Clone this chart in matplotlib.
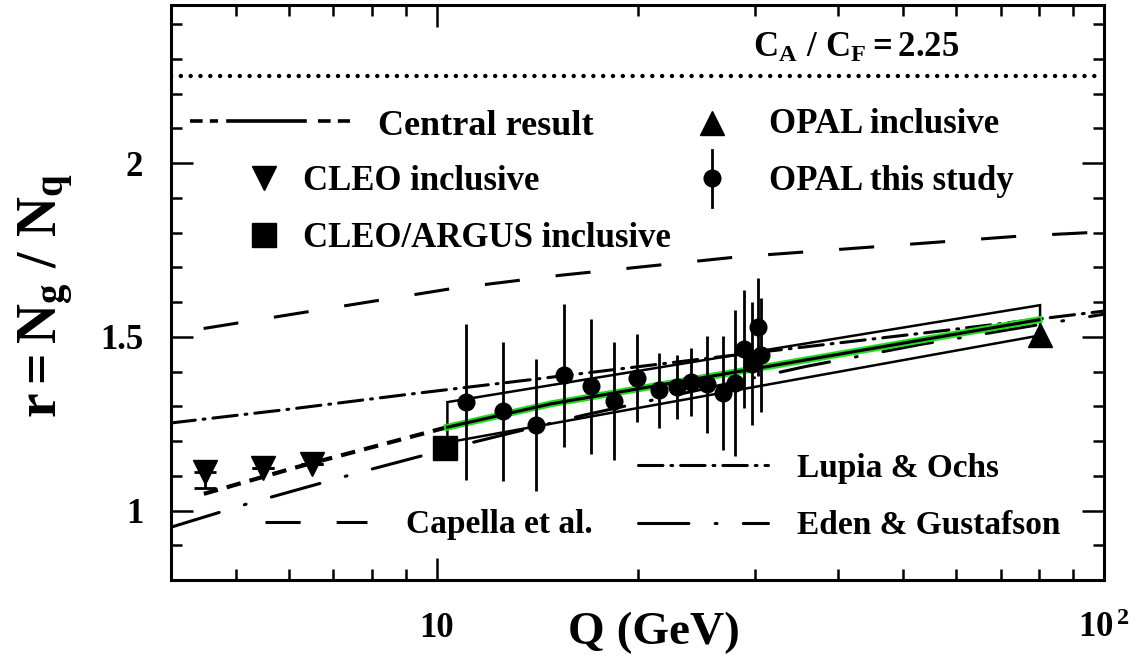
import os
os.environ.setdefault("MPLBACKEND", "Agg")

import matplotlib.pyplot as plt
from matplotlib.ticker import FixedLocator, NullFormatter
from matplotlib.transforms import Affine2D

plt.rcParams['font.family'] = ['Liberation Serif', 'DejaVu Serif']
plt.rcParams['font.weight'] = 'bold'
plt.rcParams['mathtext.fontset'] = 'custom'
plt.rcParams['mathtext.rm'] = 'Liberation Serif:bold'
plt.rcParams['mathtext.it'] = 'Liberation Serif:bold'
plt.rcParams['mathtext.bf'] = 'Liberation Serif:bold'

# ---- data ----
q_cleo = [4.5, 5.5, 6.5]
r_cleo = [1.110, 1.121, 1.133]
err_cleo_lo = [0.045, 0.0, 0.0]
err_cleo_hi = [0.0, 0.0, 0.0]

q_argus = [10.3]
r_argus = [1.179]

q_opal_incl = [80.2]
r_opal_incl = [1.505]

q_opal = [11.08, 12.59, 14.11, 15.53, 17.02, 18.47, 19.99, 21.52, 22.90,
          24.07, 25.44, 26.83, 28.03, 28.84, 29.68, 30.33, 30.60]
r_opal = [1.312, 1.286, 1.245, 1.389, 1.357, 1.315, 1.382, 1.346, 1.355,
          1.370, 1.363, 1.338, 1.367, 1.466, 1.423, 1.528, 1.447]
err_opal = [0.225, 0.200, 0.190, 0.205, 0.195, 0.170, 0.126, 0.108, 0.092,
            0.098, 0.139, 0.163, 0.211, 0.170, 0.176, 0.140, 0.164]

# central result: extrapolation (dashed) and fitted range (solid)
q_central_ext = [4.48, 6.18, 10.38]
r_central_ext = [1.048, 1.125, 1.240]
q_central = [10.38, 14.83, 79.9]
r_central = [1.240, 1.307, 1.549]

# uncertainty envelope of the central result
q_band = [10.38, 80.2]
r_band_up = [1.312, 1.591]
r_band_lo = [1.196, 1.504]

q_lupia = [4.0, 5.92, 9.21, 14.32, 25.95, 54.28, 100.0]
r_lupia = [1.252, 1.290, 1.336, 1.380, 1.440, 1.512, 1.574]

q_eden = [4.0, 5.24, 7.67, 11.27, 16.58, 35.84, 53.07, 78.8, 100.0]
r_eden = [0.952, 1.021, 1.110, 1.195, 1.274, 1.415, 1.478, 1.533, 1.565]

q_capella = [4.0, 4.48, 10.56, 15.32, 28.27, 74.96, 100.0]
r_capella = [1.509, 1.524, 1.639, 1.677, 1.730, 1.790, 1.802]

ca_cf = 2.25

LUPIA_LS = (0, (8.0, 2.6, 0.6, 2.6))
EDEN_LS = (0, (16.5, 8.6, 0.6, 8.6))
CAPELLA_LS = (12.5, (11.5, 11.8))

W, H = 1148, 665
fig = plt.figure(figsize=(W / 100, H / 100), dpi=100)
ax = fig.add_axes([171 / W, 85 / H, 933 / W, 575 / H])
# pixel coordinates (origin top left) for the hand-placed legend
pix = Affine2D().scale(1 / W, -1 / H).translate(0, 1) + fig.transFigure

ax.set_xscale('log')
ax.set_xlim(4, 100)
ax.set_ylim(0.8, 2.455)

ax.axhline(ca_cf, color='k', lw=3.2, ls=(0, (0.01, 2.2)), dash_capstyle='round')

ax.plot(q_capella, r_capella, color='k', lw=2.2, ls=CAPELLA_LS)
ax.plot(q_lupia, r_lupia, color='k', lw=2.2, ls=LUPIA_LS, dash_capstyle='round')
ax.plot(q_eden, r_eden, color='k', lw=2.2, ls=EDEN_LS, dash_capstyle='round')

ax.fill(q_band + q_band[::-1], r_band_up + r_band_lo[::-1], fill=False,
        edgecolor='k', lw=1.8)
ax.plot(q_central_ext, r_central_ext, color='k', lw=3.0, ls=(0, (3.5, 2.2)))
ax.plot(q_central, r_central, color='#22dd22', lw=5)
ax.plot(q_central, r_central, color='k', lw=2.2)

ax.errorbar(q_cleo, r_cleo, yerr=[err_cleo_lo, err_cleo_hi], fmt='v', ms=17,
            color='k', elinewidth=2.0, capsize=8, capthick=2.0, zorder=5)
ax.plot(q_argus, r_argus, 's', ms=17, color='k', zorder=5)
ax.plot(q_opal_incl, r_opal_incl, '^', ms=17, color='k', zorder=5)
ax.errorbar(q_opal, r_opal, yerr=err_opal, fmt='o', ms=12, color='k',
            elinewidth=2.0, capsize=0, zorder=6)

# axes and ticks
for s in ax.spines.values():
    s.set_linewidth(2.2)
ax.xaxis.set_major_locator(FixedLocator([10, 100]))
ax.xaxis.set_minor_locator(FixedLocator([5, 6, 7, 8, 9, 20, 30, 40, 50, 60, 70, 80, 90]))
ax.xaxis.set_major_formatter(NullFormatter())
ax.xaxis.set_minor_formatter(NullFormatter())
ax.yaxis.set_major_locator(FixedLocator([1.0, 1.5, 2.0]))
ax.yaxis.set_minor_locator(FixedLocator([0.9, 1.1, 1.2, 1.3, 1.4, 1.6, 1.7,
                                         1.8, 1.9, 2.1, 2.2, 2.3, 2.4]))
ax.set_yticklabels(['1', '1.5', '2'])
ax.tick_params(which='both', direction='in', top=True, right=True, width=1.8)
ax.tick_params(which='major', length=16)
ax.tick_params(which='minor', length=8)
ax.tick_params(axis='y', labelsize=25, pad=20)

xt = ax.get_xaxis_transform()
ax.text(10, -0.099, '10', transform=xt, ha='center', va='baseline', fontsize=25)
ax.text(100, -0.099, r'$10^{\,2}$', transform=xt, ha='center', va='baseline', fontsize=25)

fig.text(654 / W, 1 - 633 / H, 'Q (GeV)', ha='center', va='center', fontsize=34)
fig.text(46 / W, 1 - 295 / H, r'$r = N_g\ /\ N_q$', ha='center', va='center',
         rotation=90, fontsize=40)

# legend, drawn by hand
kw = dict(transform=pix, clip_on=False, color='k')
ax.text(856, 57, r'$C_A\ /\ C_F = 2.25$', transform=pix, ha='center',
        va='baseline', fontsize=25)

ax.plot([190, 218], [120.7, 120.7], lw=2.6, ls=(0, (3.5, 2)), **kw)
ax.plot([228, 305], [120.7, 120.7], lw=2.6, **kw)
ax.plot([318, 350], [120.7, 120.7], lw=2.6, ls=(0, (3.5, 2)), **kw)
ax.text(378, 135, 'Central result', transform=pix, va='baseline', fontsize=26)

ax.plot([264], [178], 'v', ms=17, **kw)
ax.text(303, 190, 'CLEO inclusive', transform=pix, va='baseline', fontsize=25)
ax.plot([264], [235], 's', ms=17, **kw)
ax.text(303, 247, 'CLEO/ARGUS inclusive', transform=pix, va='baseline', fontsize=25)

ax.plot([712], [123], '^', ms=17, **kw)
ax.text(769, 133, 'OPAL inclusive', transform=pix, va='baseline', fontsize=25)
ax.plot([712, 712], [150, 207], lw=2.0, **kw)
ax.plot([712], [178], 'o', ms=12, **kw)
ax.text(769, 190, 'OPAL this study', transform=pix, va='baseline', fontsize=25)

ax.plot([638, 768], [465, 465], lw=2.2, ls=LUPIA_LS, dash_capstyle='round', **kw)
ax.text(797, 477, 'Lupia & Ochs', transform=pix, va='baseline', fontsize=24)
ax.plot([638, 768], [522.7, 522.7], lw=2.2, ls=EDEN_LS, dash_capstyle='round', **kw)
ax.text(797, 534, 'Eden & Gustafson', transform=pix, va='baseline', fontsize=24)
ax.plot([265, 367], [522.3, 522.3], lw=2.2, ls=(0, (11.5, 11.8)), **kw)
ax.text(406, 533, 'Capella et al.', transform=pix, va='baseline', fontsize=24)

fig.savefig('out.png', dpi=100)
